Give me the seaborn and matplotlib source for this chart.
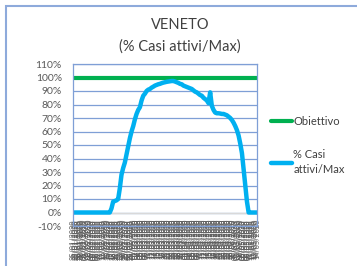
import matplotlib
matplotlib.use('Agg')
import matplotlib.pyplot as plt
import pandas as pd
import seaborn as sns
from matplotlib.patches import Rectangle

# Data (share of max active cases, per day)
giorni = pd.date_range('2020-01-25', periods=111, freq='D').strftime('%d/%m/%Y').tolist()
casi_attivi_max = [
    0, 0, 0, 0, 0, 0, 0, 0, 0, 0,
    0, 0, 0, 0, 0, 0, 0, 0, 0, 0,
    0, 0, 0, 0.03, 0.08, 0.085, 0.09, 0.10, 0.18, 0.28,
    0.33, 0.37, 0.43, 0.49, 0.55, 0.60, 0.64, 0.69, 0.73, 0.76,
    0.78, 0.83, 0.865, 0.88, 0.90, 0.91, 0.915, 0.925, 0.932, 0.94,
    0.945, 0.95, 0.953, 0.958, 0.962, 0.965, 0.968, 0.97, 0.972, 0.974,
    0.974, 0.97, 0.965, 0.96, 0.953, 0.95, 0.94, 0.935, 0.93, 0.925,
    0.92, 0.915, 0.905, 0.895, 0.89, 0.88, 0.87, 0.865, 0.85, 0.84,
    0.83, 0.81, 0.89, 0.79, 0.76, 0.74, 0.735, 0.735, 0.733, 0.73,
    0.73, 0.725, 0.72, 0.71, 0.70, 0.685, 0.665, 0.64, 0.61, 0.57,
    0.51, 0.44, 0.32, 0.20, 0.08, 0, 0, 0, 0, 0,
    0,
]
obiettivo = [1.0] * len(giorni)

df = pd.DataFrame({'giorno': giorni, 'pos': range(len(giorni)),
                   'Obiettivo': obiettivo, '% Casi\nattivi/Max': casi_attivi_max})

sns.set_style('white')
plt.rcParams['font.family'] = ['Lato', 'DejaVu Sans']

fig = plt.figure(figsize=(3.57, 2.66), dpi=100)
ax = fig.add_axes([73 / 357, 1 - 226 / 266, 184 / 357, 162 / 266])

grid_col = '#7f9fd6'
sns.lineplot(data=df, x='pos', y='Obiettivo', ax=ax, color='#00b050', linewidth=3.0,
             label='Obiettivo')
sns.lineplot(data=df, x='pos', y='% Casi\nattivi/Max', ax=ax, color='#00b0f0', linewidth=3.2,
             label='% Casi\nattivi/Max')

ax.set_xlim(0, len(giorni) - 1)
ax.set_ylim(-0.1, 1.1)
yt = [i / 10 for i in range(-1, 12)]
ax.set_yticks(yt)
ax.set_yticklabels([f'{round(v * 100)}%' for v in yt], fontsize=7.5, color='#595959')
ax.set_xticks(df['pos'])
ax.set_xticklabels(df['giorno'], rotation=90, fontsize=5.2, color='#595959')
ax.tick_params(axis='x', pad=-5, length=0)
ax.tick_params(axis='y', pad=8, length=0)
ax.set_xlabel('')
ax.set_ylabel('')
ax.grid(axis='y', color=grid_col, linewidth=0.9)
ax.set_axisbelow(True)
ax.axhline(0, color='#d9d9d9', linewidth=1.0, zorder=1)
for s in ax.spines.values():
    s.set_color(grid_col)
    s.set_linewidth(0.9)

leg = ax.legend(loc='upper left', bbox_to_anchor=(271 / 357, 1 - 116 / 266),
                bbox_transform=fig.transFigure, frameon=False, fontsize=8,
                handlelength=1.9, handletextpad=0.1, labelspacing=2.0,
                borderaxespad=0, borderpad=0)
for t in leg.get_texts():
    t.set_color('#404040')
    t.set_linespacing(1.45)

fig.text(180 / 357, 1 - 25 / 266, 'VENETO', ha='center', va='center', fontsize=10.5, color='#404040')
fig.text(180 / 357, 1 - 47 / 266, '(% Casi attivi/Max)', ha='center', va='center', fontsize=10.5,
         color='#404040')

fig.patches.append(Rectangle((5.5 / 357, -0.1), 1.2, 1 - 5.5 / 266 + 0.1, transform=fig.transFigure,
                             fill=False, edgecolor='#8eaadb', linewidth=1.5))

fig.savefig('out.png', dpi=100)
